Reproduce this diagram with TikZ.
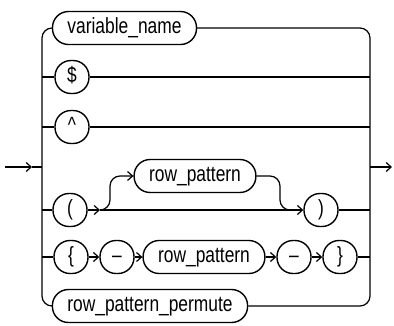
\documentclass[tikz,border=0pt]{standalone}
\usepackage{fontspec}
\setmainfont{Liberation Sans}[FakeStretch=0.79]
\usetikzlibrary{arrows.meta}
\begin{document}
\begin{tikzpicture}[x=1pt,y=-1pt,
  term/.style={draw, line width=1.4pt, rounded corners=16pt, minimum height=33pt,
    inner xsep=15pt, inner ysep=0pt, text height=15.5pt, text depth=4.5pt,
    font=\fontsize{22}{23}\selectfont},
  sym/.style={term, minimum width=34pt, inner xsep=2pt},
  conn/.style={line width=1.2pt},
  arr/.style={conn, -{Straight Barb[length=5pt,width=9pt,line width=1.2pt]}},
]
\useasboundingbox (0,0) rectangle (394,325);
% nodes
\node[term] (vn) at (124.5,28) {variable\_name};
\node[sym] (dol) at (72,77) {\$};
\node[sym] (car) at (72,127) {\textasciicircum};
\node[sym] (lp) at (70,210) {(};
\node[term] (rp1) at (195,176) {row\_pattern};
\node[sym] (rpar) at (321,210) {)};
\node[sym] (lb) at (71,257) {\{};
\node[sym] (m1) at (117,257) {–};
\node[term] (rp2) at (204,257) {row\_pattern};
\node[sym] (m2) at (294,257) {–};
\node[sym] (rb) at (340,257) {\}};
\node[term] (rpp) at (150,306) {row\_pattern\_permute};
% coordinates
\coordinate (L) at (42,167);
\coordinate (R) at (370,167);
\coordinate (in) at (5,167);
\coordinate (inA) at (32,167);
\coordinate (out) at (392,167);
\coordinate (lpA) at (100,210);
% main rails
\draw[conn, rounded corners=10pt] (vn.west) -- (L |- vn.west) -- (L |- rpp.west) -- (rpp.west);
\draw[conn, rounded corners=10pt] (vn.east) -- (R |- vn.east) -- (R |- rpp.east) -- (rpp.east);
\draw[arr] (in) -- (inA);
\draw[conn] (inA) -- (L);
\draw[arr] (R) -- (out);
% $ and ^
\draw[conn] (L |- dol.west) -- (dol.west);
\draw[conn] (dol.east) -- (R |- dol.east);
\draw[conn] (L |- car.west) -- (car.west);
\draw[conn] (car.east) -- (R |- car.east);
% ( row_pattern )
\draw[conn] (L |- lp.west) -- (lp.west);
\draw[arr] (lp.east) -- (lpA);
\draw[arr, rounded corners=10pt] (lpA) -- (110,210) -- (110,176) -- (rp1.west);
\draw[arr] (lpA) -- (rpar.west);
\draw[conn, rounded corners=10pt] (rp1.east) -- (280,176) -- (280,210) -- (292,210);
\draw[conn] (rpar.east) -- (R |- rpar.east);
% {- row_pattern -}
\draw[conn] (L |- lb.west) -- (lb.west);
\draw[arr] (lb.east) -- (m1.west);
\draw[arr] (m1.east) -- (rp2.west);
\draw[arr] (rp2.east) -- (m2.west);
\draw[arr] (m2.east) -- (rb.west);
\draw[conn] (rb.east) -- (R |- rb.east);
\end{tikzpicture}
\end{document}
